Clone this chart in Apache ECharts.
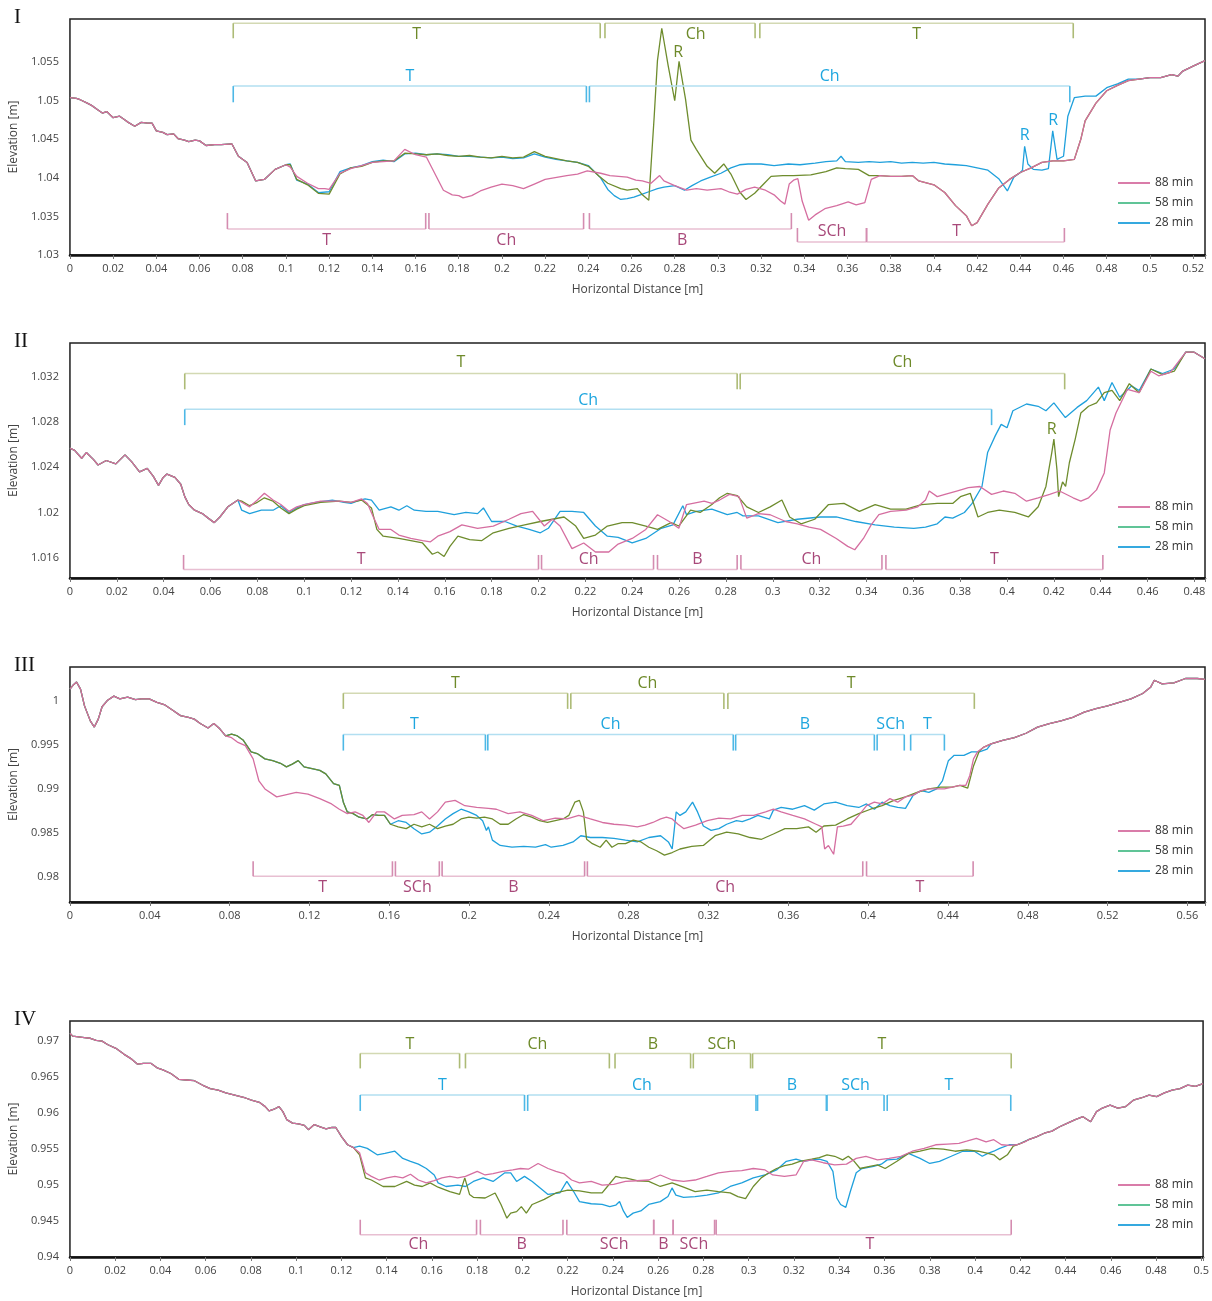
<!DOCTYPE html>
<html><head><meta charset="utf-8">
<script src="https://cdn.jsdelivr.net/npm/echarts@6/dist/echarts.min.js"></script>
<style>html,body{margin:0;padding:0;background:#fff}#c{width:1212px;height:1301px}</style>
</head><body><div id="c"></div>
<script>
// ---------------- DATA ----------------
const SERIES_NAMES = ['88 min', '58 min', '28 min'];
// Panel I
const I_START = [[0,1.0504],[0.003,1.0503],[0.005,1.0501],[0.008,1.0497],[0.01,1.0494],[0.013,1.0488],[0.015,1.0484],[0.017,1.0486],[0.02,1.0478],[0.023,1.048],[0.025,1.0476],[0.027,1.0472],[0.03,1.0467],[0.033,1.0472],[0.036,1.0471],[0.038,1.0471],[0.04,1.0461],[0.043,1.0459],[0.045,1.0456],[0.048,1.0457],[0.05,1.0451],[0.053,1.0449],[0.055,1.0447],[0.058,1.0449],[0.06,1.0448],[0.063,1.0442],[0.067,1.0443],[0.07,1.0443],[0.075,1.0444],[0.078,1.0428],[0.082,1.042],[0.086,1.0396],[0.09,1.0398],[0.095,1.0411],[0.1,1.0417]];
const I_VALLEY = [[0.375,1.0403],[0.38,1.0402],[0.385,1.0402],[0.39,1.0403],[0.393,1.0396],[0.4,1.0391],[0.405,1.0381],[0.41,1.0364],[0.415,1.0351],[0.4175,1.0338],[0.42,1.0342],[0.425,1.0366],[0.43,1.0387],[0.435,1.0398],[0.44,1.0407],[0.445,1.0413],[0.45,1.042],[0.455,1.0422],[0.46,1.0422],[0.465,1.0424]];
const I_END = [[0.468,1.045],[0.47,1.0474],[0.475,1.0497],[0.48,1.0513],[0.485,1.052],[0.49,1.0526],[0.495,1.0528],[0.5,1.053],[0.505,1.053],[0.51,1.0534],[0.513,1.0532],[0.515,1.0538],[0.52,1.0545],[0.5255,1.0552]];
const I_88 = [...I_START,[0.102,1.0414],[0.105,1.0402],[0.11,1.0393],[0.115,1.0386],[0.118,1.0386],[0.12,1.0385],[0.125,1.0406],[0.13,1.0412],[0.135,1.0416],[0.14,1.042],[0.145,1.0421],[0.15,1.0422],[0.155,1.0437],[0.16,1.043],[0.165,1.0427],[0.1729,1.0384],[0.177,1.0378],[0.18,1.0377],[0.182,1.0374],[0.186,1.0377],[0.19,1.0383],[0.195,1.0388],[0.2,1.0392],[0.205,1.039],[0.21,1.0386],[0.215,1.0392],[0.22,1.0398],[0.224,1.04],[0.23,1.0403],[0.235,1.0405],[0.2395,1.0409],[0.2457,1.0406],[0.25,1.0403],[0.258,1.0401],[0.262,1.0397],[0.265,1.0396],[0.269,1.0393],[0.273,1.0403],[0.275,1.0396],[0.28,1.039],[0.2855,1.0384],[0.29,1.0386],[0.295,1.0384],[0.3014,1.0386],[0.305,1.0382],[0.309,1.0379],[0.313,1.0385],[0.317,1.0388],[0.322,1.0384],[0.326,1.0378],[0.329,1.037],[0.331,1.0366],[0.333,1.0392],[0.335,1.0397],[0.337,1.0399],[0.339,1.037],[0.342,1.0345],[0.345,1.0352],[0.3495,1.036],[0.355,1.0364],[0.3603,1.0369],[0.364,1.0365],[0.368,1.0368],[0.371,1.0398],...I_VALLEY,...I_END];
const I_58 = [...I_START,[0.102,1.0417],[0.105,1.0398],[0.11,1.0391],[0.115,1.038],[0.12,1.0379],[0.125,1.0405],[0.13,1.0413],[0.135,1.0415],[0.14,1.042],[0.145,1.0422],[0.15,1.0422],[0.155,1.0432],[0.16,1.0431],[0.165,1.043],[0.17,1.0431],[0.175,1.0429],[0.18,1.0428],[0.185,1.0429],[0.19,1.0427],[0.195,1.0426],[0.2,1.0428],[0.205,1.0426],[0.21,1.0427],[0.215,1.0434],[0.22,1.0428],[0.225,1.0425],[0.23,1.0422],[0.235,1.042],[0.24,1.0415],[0.245,1.0402],[0.249,1.0393],[0.255,1.0386],[0.258,1.0384],[0.2627,1.0386],[0.265,1.0378],[0.268,1.0371],[0.2705,1.048],[0.272,1.0552],[0.274,1.0594],[0.277,1.0545],[0.28,1.05],[0.282,1.0551],[0.285,1.0502],[0.2875,1.0449],[0.29,1.0437],[0.295,1.0415],[0.2985,1.0406],[0.3027,1.0418],[0.306,1.0405],[0.31,1.0382],[0.313,1.0372],[0.317,1.038],[0.3215,1.0393],[0.3246,1.0402],[0.33,1.0403],[0.335,1.0403],[0.343,1.0404],[0.35,1.0408],[0.355,1.0413],[0.359,1.0412],[0.365,1.0411],[0.37,1.0403],...I_VALLEY,...I_END];
const I_28 = [...I_START,[0.102,1.0418],[0.105,1.0397],[0.11,1.0392],[0.115,1.0381],[0.12,1.0382],[0.125,1.0408],[0.13,1.0413],[0.135,1.0416],[0.14,1.0421],[0.145,1.0423],[0.15,1.0421],[0.155,1.0431],[0.16,1.0432],[0.165,1.043],[0.17,1.0431],[0.175,1.043],[0.18,1.0428],[0.185,1.0428],[0.19,1.0427],[0.195,1.0426],[0.2,1.0427],[0.205,1.0425],[0.21,1.0426],[0.215,1.0431],[0.22,1.0427],[0.225,1.0424],[0.23,1.0422],[0.235,1.042],[0.24,1.0416],[0.2457,1.04],[0.249,1.0385],[0.252,1.0377],[0.255,1.0372],[0.258,1.0373],[0.2611,1.0375],[0.265,1.0379],[0.268,1.0382],[0.272,1.0386],[0.275,1.0388],[0.28,1.039],[0.2845,1.0384],[0.288,1.039],[0.292,1.0396],[0.2965,1.0401],[0.3014,1.0406],[0.306,1.0413],[0.31,1.0417],[0.314,1.0418],[0.32,1.0418],[0.326,1.0416],[0.3326,1.0418],[0.338,1.0417],[0.345,1.0419],[0.35,1.0421],[0.355,1.0422],[0.357,1.0428],[0.359,1.0421],[0.365,1.042],[0.37,1.0421],[0.375,1.042],[0.38,1.0421],[0.385,1.0419],[0.39,1.042],[0.395,1.0419],[0.4,1.042],[0.405,1.0418],[0.41,1.0417],[0.415,1.0416],[0.42,1.0413],[0.425,1.041],[0.43,1.0399],[0.434,1.0383],[0.437,1.0401],[0.44,1.0407],[0.441,1.041],[0.442,1.0441],[0.4435,1.0418],[0.446,1.0411],[0.45,1.041],[0.453,1.0412],[0.455,1.0461],[0.457,1.0424],[0.46,1.0428],[0.462,1.048],[0.465,1.0504],[0.47,1.0506],[0.475,1.0506],[0.48,1.0517],[0.485,1.0522],[0.49,1.0528],[0.495,1.0528],[0.5,1.053],[0.505,1.053],[0.51,1.0534],[0.513,1.0532],[0.515,1.0538],[0.52,1.0545],[0.5255,1.0552]];
const I_SEG_58 = [[0.0756,0.2455,'T'],[0.2477,0.3172,'Ch',0.2897],[0.3194,0.4645,'T']];
const I_SEG_28 = [[0.0756,0.2391,'T'],[0.2405,0.4629,'Ch']];
const I_SEG_88A = [[0.0729,0.1647,'T'],[0.1662,0.2378,'Ch'],[0.2405,0.334,'B',0.2834]];
const I_SEG_88B = [[0.3368,0.3688,'SCh'],[0.3688,0.4604,'T',0.4105]];
const I_TXT_58 = [[0.2816,1.0563,'R']];
const I_TXT_28 = [[0.442,1.0455,'R'],[0.4552,1.0474,'R']];

// Panel II
const II_START = [[0,1.0257],[0.002,1.0255],[0.005,1.0248],[0.007,1.0253],[0.01,1.0247],[0.012,1.0242],[0.0155,1.0246],[0.0196,1.0243],[0.0235,1.0251],[0.0263,1.0245],[0.0297,1.0236],[0.033,1.0239],[0.0356,1.0232],[0.0378,1.0224],[0.0398,1.0231],[0.0414,1.0234],[0.0448,1.0231],[0.0473,1.0225],[0.049,1.0214],[0.0507,1.0207],[0.0532,1.0202],[0.0565,1.0199],[0.059,1.0195],[0.0616,1.0191],[0.064,1.0196],[0.0674,1.0205],[0.0717,1.0211]];
const II_END = [[0.4763,1.0342],[0.4797,1.0342],[0.4845,1.0336]];
const II_88 = [...II_START,[0.0733,1.0209],[0.0767,1.0205],[0.08,1.0211],[0.083,1.0217],[0.0867,1.0211],[0.09,1.0207],[0.0935,1.0201],[0.0968,1.0205],[0.1,1.0207],[0.107,1.021],[0.115,1.021],[0.12,1.0209],[0.1245,1.0212],[0.127,1.0208],[0.1295,1.0196],[0.132,1.0185],[0.137,1.0185],[0.1404,1.018],[0.1455,1.0177],[0.1505,1.0175],[0.1539,1.0174],[0.157,1.0179],[0.1622,1.0183],[0.1673,1.0189],[0.174,1.0186],[0.1807,1.0188],[0.1874,1.0194],[0.1925,1.0199],[0.1975,1.0201],[0.2025,1.0188],[0.2059,1.0194],[0.2092,1.0188],[0.2143,1.0168],[0.2193,1.0173],[0.2243,1.0165],[0.23,1.0165],[0.234,1.0172],[0.24,1.0177],[0.2458,1.0185],[0.2508,1.0198],[0.2558,1.0192],[0.2599,1.0186],[0.2632,1.0207],[0.2707,1.021],[0.274,1.0208],[0.2773,1.0211],[0.2815,1.0216],[0.2856,1.0214],[0.2889,1.0195],[0.2939,1.0199],[0.2989,1.0198],[0.3055,1.0192],[0.3105,1.019],[0.3155,1.0187],[0.3204,1.0185],[0.3271,1.0177],[0.332,1.017],[0.335,1.0167],[0.3387,1.0177],[0.342,1.0189],[0.3453,1.0198],[0.3503,1.0201],[0.3569,1.0202],[0.3619,1.0205],[0.3652,1.0211],[0.3668,1.0219],[0.3702,1.0214],[0.3735,1.0216],[0.3785,1.0219],[0.3835,1.0222],[0.3884,1.0223],[0.3934,1.0216],[0.3984,1.0219],[0.4033,1.0217],[0.4083,1.021],[0.4133,1.0213],[0.4182,1.0216],[0.4224,1.0219],[0.4282,1.0213],[0.4315,1.021],[0.4348,1.0213],[0.4382,1.022],[0.4415,1.0235],[0.444,1.0273],[0.4465,1.0288],[0.4514,1.0309],[0.4564,1.0306],[0.4614,1.0325],[0.4647,1.0321],[0.4697,1.0324],...II_END];
const II_58 = [...II_START,[0.0733,1.021],[0.0767,1.0206],[0.08,1.0209],[0.083,1.0213],[0.0867,1.021],[0.09,1.0204],[0.0935,1.0199],[0.0968,1.0203],[0.1,1.0206],[0.107,1.0209],[0.115,1.021],[0.12,1.0209],[0.1245,1.0211],[0.1287,1.0204],[0.131,1.0185],[0.1337,1.0179],[0.1404,1.0177],[0.1455,1.0175],[0.1505,1.0173],[0.1547,1.0163],[0.157,1.0165],[0.1597,1.0161],[0.1622,1.017],[0.1656,1.0179],[0.1706,1.0176],[0.1757,1.0175],[0.1807,1.0182],[0.1874,1.0186],[0.1941,1.0189],[0.2008,1.0192],[0.2059,1.0194],[0.2109,1.0196],[0.2159,1.0188],[0.2193,1.0177],[0.2243,1.018],[0.2294,1.0188],[0.2357,1.0191],[0.24,1.0191],[0.2458,1.0188],[0.2508,1.0185],[0.2566,1.0191],[0.2599,1.0188],[0.2649,1.0202],[0.269,1.02],[0.274,1.0207],[0.2773,1.0213],[0.2806,1.0217],[0.2848,1.0215],[0.2889,1.0205],[0.2939,1.02],[0.2989,1.0205],[0.3039,1.0211],[0.3072,1.0196],[0.3121,1.019],[0.3179,1.0194],[0.3238,1.0207],[0.3304,1.0208],[0.337,1.0201],[0.3437,1.0207],[0.3503,1.0203],[0.3569,1.0203],[0.3635,1.0207],[0.3702,1.0208],[0.3768,1.0208],[0.3801,1.0214],[0.3843,1.0217],[0.3876,1.0196],[0.3917,1.02],[0.3967,1.0202],[0.4033,1.02],[0.4091,1.0196],[0.4133,1.0205],[0.4166,1.0223],[0.4191,1.0253],[0.42,1.0265],[0.4213,1.0238],[0.422,1.0214],[0.4237,1.0227],[0.425,1.0223],[0.4266,1.0244],[0.4291,1.0265],[0.4315,1.0288],[0.4348,1.0294],[0.4382,1.0297],[0.4415,1.0306],[0.4448,1.0308],[0.4481,1.0299],[0.4522,1.0314],[0.4564,1.0306],[0.4614,1.0327],[0.4664,1.0322],[0.4714,1.0325],...II_END];
const II_28 = [...II_START,[0.0733,1.0202],[0.0767,1.0199],[0.0817,1.0202],[0.0867,1.0202],[0.09,1.0206],[0.0935,1.02],[0.0968,1.0204],[0.1,1.0207],[0.105,1.0209],[0.112,1.0211],[0.117,1.0209],[0.12,1.0208],[0.1237,1.0211],[0.126,1.0212],[0.1287,1.0211],[0.132,1.0202],[0.137,1.0205],[0.1404,1.0202],[0.1438,1.0206],[0.147,1.0202],[0.152,1.0201],[0.157,1.0201],[0.164,1.0198],[0.169,1.02],[0.174,1.0199],[0.1765,1.0204],[0.18,1.0192],[0.1857,1.0192],[0.1908,1.0188],[0.196,1.0185],[0.2008,1.0182],[0.2042,1.0186],[0.2092,1.0201],[0.2143,1.0201],[0.2193,1.02],[0.2243,1.0188],[0.2294,1.0179],[0.234,1.0178],[0.24,1.0173],[0.2458,1.0177],[0.2524,1.0186],[0.2574,1.0189],[0.2616,1.0206],[0.2632,1.0198],[0.2674,1.0201],[0.274,1.0203],[0.2806,1.0198],[0.2848,1.02],[0.2873,1.0197],[0.2939,1.0197],[0.3022,1.0191],[0.3105,1.0194],[0.3204,1.0196],[0.3271,1.0196],[0.3354,1.0192],[0.3437,1.0189],[0.3519,1.0187],[0.3602,1.0186],[0.3652,1.0187],[0.3702,1.019],[0.3735,1.0196],[0.3768,1.0195],[0.3818,1.02],[0.3851,1.0208],[0.3893,1.0223],[0.3917,1.0253],[0.395,1.0268],[0.3975,1.0278],[0.4,1.0275],[0.4025,1.029],[0.4083,1.0296],[0.4133,1.0294],[0.4166,1.029],[0.42,1.0297],[0.4249,1.0284],[0.4299,1.0293],[0.434,1.0299],[0.439,1.0311],[0.4415,1.0299],[0.4448,1.0315],[0.4481,1.0302],[0.4531,1.0312],[0.4564,1.0308],[0.4614,1.0327],[0.4664,1.0323],[0.4714,1.0327],...II_END];
const II_SEG_58 = [[0.049,0.2848,'T'],[0.2861,0.4246,'Ch']];
const II_SEG_28 = [[0.049,0.3934,'Ch']];
const II_SEG_88 = [[0.0485,0.2,'T'],[0.2013,0.2491,'Ch',0.2214],[0.2508,0.2848,'B'],[0.2864,0.3466,'Ch'],[0.3483,0.4409,'T']];
const II_TXT_58 = [[0.4191,1.02735,'R']];

// Panel III
const III_START = [[0,1.0013],[0.0014,1.0017],[0.0033,1.0021],[0.0053,1.0013],[0.0073,0.9994],[0.0102,0.9977],[0.0122,0.997],[0.0142,0.9979],[0.0161,0.9993],[0.0187,1.0],[0.022,1.0005],[0.025,1.0002],[0.0289,1.0004],[0.0328,1.0001],[0.0358,1.0002],[0.0397,1.0002],[0.0436,0.9998],[0.0476,0.9995],[0.0515,0.9989],[0.0554,0.9983],[0.0594,0.9981],[0.0623,0.9979],[0.0653,0.9974],[0.0692,0.9969],[0.0721,0.9974],[0.0751,0.9968],[0.078,0.996]];
const III_BANK = [[0.081,0.9962],[0.0839,0.996],[0.0869,0.9955],[0.0908,0.9942],[0.0938,0.994],[0.0977,0.9934],[0.1016,0.9932],[0.1055,0.9929],[0.1085,0.9925],[0.1114,0.9928],[0.1144,0.9932],[0.1173,0.9925],[0.1213,0.9923],[0.1252,0.9921],[0.1282,0.9917],[0.1321,0.9906],[0.135,0.9904],[0.137,0.9885],[0.139,0.9874],[0.1419,0.9872],[0.1449,0.9868],[0.1488,0.9866],[0.1517,0.9871],[0.1547,0.987],[0.1576,0.987],[0.1606,0.986]];
const III_END = [[0.4616,0.9951],[0.4674,0.9955],[0.4733,0.9958],[0.4791,0.9963],[0.4849,0.997],[0.4908,0.9974],[0.4966,0.9977],[0.5025,0.9981],[0.5083,0.9987],[0.5142,0.9991],[0.52,0.9994],[0.5258,0.9998],[0.5317,1.0002],[0.5376,1.0008],[0.5415,1.0015],[0.5434,1.0023],[0.5473,1.0019],[0.5532,1.002],[0.559,1.0025],[0.5649,1.0025],[0.5688,1.0024]];
const III_88 = [...III_START,[0.081,0.9958],[0.0839,0.9953],[0.0879,0.9949],[0.0918,0.9934],[0.0947,0.9909],[0.0977,0.99],[0.1036,0.9891],[0.1075,0.9893],[0.1134,0.9896],[0.1193,0.9894],[0.1252,0.9889],[0.1311,0.9883],[0.135,0.9877],[0.139,0.9872],[0.1429,0.9874],[0.1468,0.987],[0.1498,0.9862],[0.1537,0.9874],[0.1576,0.9874],[0.1626,0.9866],[0.1665,0.987],[0.1724,0.9871],[0.1763,0.9874],[0.1802,0.9866],[0.1842,0.9874],[0.1881,0.9885],[0.193,0.9887],[0.1979,0.9881],[0.2038,0.9879],[0.2097,0.9878],[0.2137,0.9877],[0.2196,0.9872],[0.2255,0.9874],[0.2314,0.987],[0.2373,0.9864],[0.2432,0.9867],[0.2491,0.9866],[0.255,0.987],[0.2608,0.9866],[0.2668,0.9862],[0.2726,0.986],[0.2784,0.9859],[0.2843,0.9857],[0.2882,0.9859],[0.2921,0.9862],[0.296,0.9866],[0.2989,0.9868],[0.3018,0.9866],[0.3047,0.986],[0.3077,0.9855],[0.3135,0.9859],[0.3194,0.9864],[0.3252,0.9867],[0.331,0.9866],[0.3369,0.987],[0.3427,0.987],[0.3486,0.9874],[0.3525,0.9877],[0.3564,0.9874],[0.3622,0.987],[0.3681,0.9866],[0.3739,0.986],[0.3768,0.9857],[0.3782,0.9832],[0.3801,0.9836],[0.3827,0.9826],[0.3846,0.9857],[0.3875,0.9858],[0.3914,0.986],[0.3953,0.987],[0.3992,0.9881],[0.4031,0.9885],[0.407,0.9883],[0.4109,0.9889],[0.4148,0.9885],[0.4187,0.9891],[0.4226,0.9893],[0.4265,0.9898],[0.4304,0.99],[0.4343,0.99],[0.4382,0.99],[0.4421,0.9902],[0.446,0.9904],[0.4489,0.9904],[0.4509,0.9915],[0.4528,0.9934],[0.4548,0.9942],[0.4577,0.9947],...III_END];
const III_58 = [...III_START,...III_BANK,[0.1645,0.9857],[0.1685,0.9855],[0.1724,0.986],[0.1763,0.9857],[0.1802,0.986],[0.1842,0.9855],[0.1881,0.9858],[0.192,0.986],[0.196,0.9866],[0.1999,0.9868],[0.2038,0.9867],[0.2077,0.9868],[0.2117,0.9866],[0.2156,0.986],[0.2196,0.986],[0.2235,0.9866],[0.2274,0.9871],[0.2314,0.9868],[0.2353,0.9864],[0.2393,0.9862],[0.2432,0.9864],[0.2471,0.9866],[0.25,0.987],[0.253,0.9885],[0.2553,0.9887],[0.2573,0.9874],[0.2589,0.9843],[0.2618,0.9838],[0.2657,0.9834],[0.2687,0.9842],[0.2716,0.9834],[0.2746,0.9838],[0.2784,0.9838],[0.2823,0.9842],[0.2862,0.984],[0.2901,0.9834],[0.294,0.983],[0.2979,0.9825],[0.3018,0.9828],[0.3057,0.9832],[0.3116,0.9835],[0.3174,0.9836],[0.3233,0.9847],[0.3291,0.9851],[0.3349,0.9849],[0.3408,0.9845],[0.3466,0.9843],[0.3525,0.9849],[0.3583,0.9855],[0.3642,0.9855],[0.3701,0.9857],[0.3739,0.9851],[0.3778,0.9858],[0.3837,0.9859],[0.3895,0.9866],[0.3953,0.9872],[0.4012,0.9877],[0.407,0.9881],[0.4129,0.9887],[0.4187,0.9891],[0.4245,0.9896],[0.4304,0.99],[0.4363,0.9902],[0.4421,0.9902],[0.446,0.9904],[0.4499,0.9901],[0.4528,0.9926],[0.4557,0.9943],[0.4577,0.9947],...III_END];
const III_28 = [...III_START,...III_BANK,[0.1645,0.9864],[0.1685,0.9862],[0.1724,0.9855],[0.1763,0.9849],[0.1802,0.9851],[0.1842,0.9858],[0.1881,0.9866],[0.192,0.9872],[0.196,0.9877],[0.1999,0.9874],[0.2038,0.987],[0.2068,0.9864],[0.2087,0.9853],[0.2097,0.9857],[0.2117,0.9842],[0.2156,0.9836],[0.2215,0.9834],[0.2274,0.9835],[0.2333,0.9834],[0.2383,0.9837],[0.2412,0.9834],[0.2471,0.9836],[0.2521,0.984],[0.256,0.9847],[0.2608,0.9845],[0.2668,0.9845],[0.2726,0.9844],[0.2784,0.9842],[0.2843,0.984],[0.2901,0.9845],[0.296,0.9847],[0.2999,0.984],[0.3018,0.9832],[0.3038,0.9874],[0.3057,0.987],[0.3086,0.9874],[0.312,0.9885],[0.3145,0.9874],[0.3174,0.9858],[0.3213,0.9853],[0.3252,0.9855],[0.3291,0.986],[0.334,0.9864],[0.3369,0.9863],[0.3408,0.9866],[0.3447,0.987],[0.3505,0.9866],[0.3525,0.9876],[0.3564,0.9879],[0.3622,0.9877],[0.3681,0.9881],[0.373,0.9876],[0.3778,0.9883],[0.3837,0.9885],[0.3895,0.9881],[0.3953,0.9879],[0.3992,0.9883],[0.4031,0.9877],[0.407,0.9885],[0.4109,0.9881],[0.4148,0.9879],[0.4187,0.9878],[0.4226,0.9893],[0.4265,0.9898],[0.4304,0.9896],[0.4343,0.99],[0.4372,0.9909],[0.4402,0.9932],[0.4431,0.9938],[0.448,0.9938],[0.4518,0.9942],[0.4557,0.9942],[0.4596,0.9945],...III_END];
const III_SEG_58 = [[0.137,0.2494,'T'],[0.251,0.3277,'Ch'],[0.3297,0.4532,'T']];
const III_SEG_28 = [[0.137,0.2082,'T'],[0.2094,0.3324,'Ch'],[0.3336,0.4031,'B'],[0.4045,0.4181,'SCh'],[0.4213,0.4382,'T']];
const III_SEG_88 = [[0.0918,0.1616,'T'],[0.1631,0.1851,'SCh'],[0.1865,0.2579,'B'],[0.2593,0.3973,'Ch'],[0.3992,0.4526,'T']];

// Panel IV
const IV_START = [[0,0.9711],[0.0012,0.9707],[0.0038,0.9706],[0.0064,0.9705],[0.009,0.9704],[0.0116,0.9701],[0.0142,0.97],[0.0168,0.9695],[0.0203,0.969],[0.0238,0.9682],[0.0273,0.9675],[0.0299,0.9668],[0.0325,0.9669],[0.0359,0.9669],[0.0385,0.9663],[0.0411,0.966],[0.0446,0.9655],[0.0481,0.9647],[0.0516,0.9646],[0.055,0.9645],[0.0585,0.9639],[0.062,0.9634],[0.0655,0.9632],[0.0689,0.9628],[0.0715,0.9626],[0.0741,0.9624],[0.0776,0.9621],[0.0802,0.9618],[0.0837,0.9615],[0.0863,0.9609],[0.088,0.9603],[0.0906,0.9606],[0.0924,0.9609],[0.0941,0.9602],[0.0958,0.9591],[0.0984,0.9586],[0.101,0.9585],[0.1036,0.9583],[0.1054,0.9577],[0.108,0.9584],[0.1106,0.9581],[0.1132,0.9578],[0.1158,0.958],[0.1175,0.958],[0.1201,0.9567],[0.1227,0.9556],[0.1253,0.9552]];
const IV_END = [[0.4237,0.9563],[0.4271,0.9567],[0.4306,0.9572],[0.434,0.9575],[0.4374,0.9581],[0.4409,0.9586],[0.4443,0.9591],[0.4477,0.9595],[0.4511,0.9588],[0.4537,0.9602],[0.4563,0.9607],[0.4597,0.9611],[0.4631,0.9607],[0.4666,0.9609],[0.47,0.9618],[0.4734,0.9621],[0.4769,0.9625],[0.4803,0.9623],[0.4837,0.9628],[0.4871,0.9632],[0.4906,0.9634],[0.494,0.9639],[0.4974,0.9637],[0.5008,0.9641]];
const IV_88 = [...IV_START,[0.128,0.9545],[0.1306,0.9517],[0.1332,0.9512],[0.1366,0.9507],[0.1401,0.951],[0.1436,0.9512],[0.1471,0.951],[0.1505,0.9515],[0.154,0.9507],[0.1575,0.9503],[0.161,0.9506],[0.1644,0.951],[0.1679,0.9512],[0.1714,0.951],[0.1748,0.9512],[0.18,0.9519],[0.1835,0.9514],[0.187,0.9516],[0.1913,0.9519],[0.1957,0.9521],[0.1991,0.9523],[0.2026,0.9522],[0.2069,0.953],[0.2113,0.9523],[0.2148,0.9519],[0.2182,0.9516],[0.2217,0.9507],[0.2252,0.9503],[0.2304,0.9505],[0.2352,0.95],[0.2403,0.9501],[0.2455,0.9505],[0.2506,0.9506],[0.2558,0.9507],[0.2609,0.9514],[0.2661,0.9507],[0.2712,0.9505],[0.2763,0.9507],[0.2815,0.9512],[0.2866,0.9517],[0.2918,0.9519],[0.2969,0.952],[0.302,0.9523],[0.3072,0.9521],[0.3106,0.9514],[0.3158,0.9512],[0.3209,0.9514],[0.3243,0.9533],[0.3278,0.9535],[0.3329,0.9531],[0.338,0.9528],[0.3432,0.9529],[0.3475,0.9537],[0.3518,0.954],[0.3569,0.9535],[0.362,0.9537],[0.3672,0.954],[0.3723,0.9547],[0.3775,0.9551],[0.3826,0.9556],[0.3878,0.9557],[0.3929,0.9558],[0.3963,0.9561],[0.4006,0.9565],[0.4049,0.956],[0.4083,0.9563],[0.4117,0.9556],[0.4152,0.9555],[0.4186,0.9556],[0.422,0.956],...IV_END];
const IV_58 = [...IV_START,[0.128,0.9542],[0.1306,0.951],[0.1332,0.9507],[0.1384,0.9498],[0.1436,0.9498],[0.1488,0.9505],[0.1523,0.95],[0.1557,0.9498],[0.1592,0.9503],[0.1627,0.9497],[0.1679,0.9491],[0.1722,0.9487],[0.1745,0.951],[0.1766,0.9487],[0.1783,0.9483],[0.1835,0.9482],[0.1879,0.9489],[0.1905,0.9473],[0.1931,0.9454],[0.1948,0.9461],[0.1974,0.9463],[0.1995,0.947],[0.2017,0.9461],[0.2043,0.9473],[0.2096,0.948],[0.2148,0.9489],[0.22,0.9493],[0.2252,0.9492],[0.2304,0.9489],[0.2352,0.9489],[0.2378,0.9499],[0.2412,0.9512],[0.2439,0.951],[0.2455,0.951],[0.2506,0.9506],[0.2558,0.9505],[0.2609,0.9498],[0.2661,0.9503],[0.2712,0.9497],[0.2763,0.9491],[0.2815,0.9493],[0.2866,0.9491],[0.2918,0.9489],[0.2952,0.9484],[0.2986,0.9481],[0.302,0.9498],[0.3055,0.951],[0.3089,0.9517],[0.3123,0.9523],[0.3158,0.9527],[0.3192,0.9529],[0.3226,0.9533],[0.3278,0.9536],[0.3312,0.9538],[0.3346,0.9542],[0.338,0.954],[0.3415,0.9535],[0.344,0.954],[0.3466,0.9533],[0.3492,0.9523],[0.3535,0.9526],[0.3569,0.9528],[0.3603,0.9523],[0.3655,0.9533],[0.3706,0.9544],[0.3757,0.9547],[0.3809,0.9551],[0.386,0.955],[0.3912,0.9547],[0.3963,0.9549],[0.4015,0.9547],[0.4057,0.9544],[0.4083,0.9542],[0.4109,0.9535],[0.4143,0.9542],[0.4169,0.9554],[0.4203,0.9558],...IV_END];
const IV_28 = [...IV_START,[0.128,0.9554],[0.1314,0.9551],[0.1358,0.9542],[0.1392,0.9544],[0.1436,0.9547],[0.1471,0.9537],[0.1505,0.9533],[0.154,0.9529],[0.1575,0.9523],[0.161,0.9514],[0.1627,0.9503],[0.1662,0.9498],[0.1714,0.95],[0.1748,0.9498],[0.1783,0.9505],[0.1826,0.951],[0.187,0.9505],[0.1922,0.9517],[0.1948,0.9517],[0.1974,0.9505],[0.2009,0.9512],[0.2043,0.9505],[0.2078,0.9496],[0.2113,0.9487],[0.2165,0.9489],[0.2196,0.9505],[0.2226,0.9491],[0.2252,0.9477],[0.2304,0.9474],[0.2352,0.9473],[0.2386,0.947],[0.2412,0.9472],[0.2429,0.9477],[0.2446,0.9464],[0.2463,0.9455],[0.2489,0.9461],[0.2523,0.9464],[0.2558,0.9473],[0.2609,0.9477],[0.2643,0.9484],[0.2661,0.9496],[0.2678,0.9486],[0.2712,0.9483],[0.2763,0.9484],[0.2815,0.9486],[0.2866,0.9489],[0.2918,0.9498],[0.2969,0.9503],[0.302,0.951],[0.3072,0.9514],[0.3123,0.9521],[0.3166,0.9533],[0.3209,0.9536],[0.3243,0.9533],[0.3278,0.9535],[0.3312,0.9536],[0.3346,0.9533],[0.3372,0.9519],[0.3389,0.9482],[0.3406,0.9473],[0.3429,0.9469],[0.3449,0.9491],[0.3475,0.9517],[0.35,0.9523],[0.3552,0.9526],[0.3586,0.9529],[0.3612,0.9535],[0.3655,0.9536],[0.3706,0.9544],[0.3757,0.9537],[0.38,0.953],[0.3843,0.9533],[0.3895,0.954],[0.3946,0.9547],[0.3997,0.9547],[0.4032,0.954],[0.4057,0.9544],[0.4083,0.9547],[0.4109,0.9551],[0.4152,0.9556],[0.4186,0.9556],...IV_END];
const IV_SEG_58 = [[0.1283,0.1722,'T'],[0.1748,0.2384,'Ch'],[0.2409,0.2743,'B'],[0.2755,0.3008,'SCh'],[0.3017,0.416,'T']];
const IV_SEG_28 = [[0.1283,0.2009,'T'],[0.2023,0.3032,'Ch'],[0.3039,0.3343,'B'],[0.3346,0.3598,'SCh'],[0.3612,0.4158,'T']];
const IV_SEG_88 = [[0.1283,0.1797,'Ch'],[0.1814,0.2179,'B'],[0.2196,0.258,'SCh',0.2405],[0.258,0.2666,'B'],[0.2666,0.2849,'SCh'],[0.2856,0.416,'T',0.3535]];

// ---------------- STYLE / LAYOUT ----------------
const COL = {
  '88 min': {line:'#d56ea0', bLine:'#e8bfd2', bTick:'#d48cb0', text:'#a8497a'},
  '58 min': {line:'#6e8c2d', bLine:'#d3d9b3', bTick:'#adbb76', text:'#6e8a2a', legend:'#4fbe8c'},
  '28 min': {line:'#1fa0dc', bLine:'#b2dff1', bTick:'#4db8e6', text:'#1ea6df'}
};
const FONT = '"Open Sans", "Noto Sans", sans-serif';

const PANELS = [
  {roman:'I', top:19, height:236, xMax:0.5255, xInt:0.02, yMin:1.03, yMax:1.0606, yInt:0.005, yStep:0.005, yLabelMax:1.055, legendTop:172,
   lines:{'88 min':I_88,'58 min':I_58,'28 min':I_28},
   brackets:[
     {key:'58 min', segs:I_SEG_58, line:1.06005, tick:1.0581, label:1.0586},
     {key:'28 min', segs:I_SEG_28, line:1.0519, tick:1.0498, label:1.0532},
     {key:'88 min', segs:I_SEG_88A, line:1.03337, tick:1.03544, label:1.03194},
     {key:'88 min', segs:I_SEG_88B, line:1.0317, tick:1.0335, label:1.0331}],
   texts:[{key:'58 min', items:I_TXT_58},{key:'28 min', items:I_TXT_28}]},
  {roman:'II', top:343, height:235, xMax:0.4845, xInt:0.02, yMin:1.0142, yMax:1.035, yInt:0.0002, yStep:0.004, yLabelMax:1.032, legendTop:496,
   lines:{'88 min':II_88,'58 min':II_58,'28 min':II_28},
   brackets:[
     {key:'58 min', segs:II_SEG_58, line:1.0323, tick:1.0309, label:1.0333},
     {key:'28 min', segs:II_SEG_28, line:1.02913, tick:1.02773, label:1.02996},
     {key:'88 min', segs:II_SEG_88, line:1.01496, tick:1.01624, label:1.01585}],
   texts:[{key:'58 min', items:II_TXT_58}]},
  {roman:'III', top:667, height:235, xMax:0.5688, xInt:0.04, yMin:0.9772, yMax:1.0038, yInt:0.0002, yStep:0.005, yLabelMax:1.0, legendTop:820,
   lines:{'88 min':III_88,'58 min':III_58,'28 min':III_28},
   brackets:[
     {key:'58 min', segs:III_SEG_58, line:1.00083, tick:0.99906, label:1.00189},
     {key:'28 min', segs:III_SEG_28, line:0.99615, tick:0.99434, label:0.99728},
     {key:'88 min', segs:III_SEG_88, line:0.98011, tick:0.98181, label:0.97887}],
   texts:[]},
  {roman:'IV', top:1021, height:236, xMax:0.5008, xInt:0.02, yMin:0.94, yMax:0.9728, yInt:0.005, yStep:0.005, yLabelMax:0.97, legendTop:1174,
   lines:{'88 min':IV_88,'58 min':IV_58,'28 min':IV_28},
   brackets:[
     {key:'58 min', segs:IV_SEG_58, line:0.96829, tick:0.96621, label:0.96954},
     {key:'28 min', segs:IV_SEG_28, line:0.96252, tick:0.9603, label:0.96381},
     {key:'88 min', segs:IV_SEG_88, line:0.9431, tick:0.94518, label:0.94171}],
   texts:[]}
];

function stepFmt(step, maxLabel){
  return function(v){
    if (maxLabel != null && v > maxLabel + 1e-9) return '';
    const k = v/step;
    return Math.abs(k-Math.round(k)) < 1e-6 ? String(parseFloat(v.toFixed(4))) : '';
  };
}

const grids=[], xAxes=[], yAxes=[], series=[], legends=[], graphics=[];
PANELS.forEach((p,i)=>{
  grids.push({left:65, width:1140, top:p.top, height:p.height, show:true, borderColor:'#1f1f1f', borderWidth:1.5, backgroundColor:'transparent'});
  xAxes.push({type:'value', gridIndex:i, min:0, max:p.xMax, interval:p.xInt,
    axisLine:{show:true, onZero:false, lineStyle:{color:'#111', width:2.5}},
    axisTick:{show:true, length:4, lineStyle:{color:'#777'}},
    splitLine:{show:false},
    axisLabel:{fontSize:11, color:'#444', fontFamily:FONT, margin:8, formatter:stepFmt(p.xInt, null)},
    name:'Horizontal Distance [m]', nameLocation:'middle', nameGap:29,
    nameTextStyle:{fontSize:12, color:'#444', fontFamily:FONT}});
  yAxes.push({type:'value', gridIndex:i, min:p.yMin, max:p.yMax, interval:p.yInt,
    axisLine:{show:false}, axisTick:{show:false}, splitLine:{show:false},
    axisLabel:{fontSize:11, color:'#444', fontFamily:FONT, margin:11, formatter:stepFmt(p.yStep, p.yLabelMax)},
    name:'Elevation [m]', nameLocation:'middle', nameGap:40,
    nameTextStyle:{fontSize:12, color:'#444', fontFamily:FONT}});
  ['28 min','58 min','88 min'].forEach(nm=>{
    series.push({type:'line', name:nm, xAxisIndex:i, yAxisIndex:i, data:p.lines[nm],
      symbol:'none', showSymbol:false, smooth:false, z:2,
      lineStyle:{color:COL[nm].line, width:1.3}, itemStyle:{color:COL[nm].line}});
  });
  p.brackets.forEach(b=>{
    const c = COL[b.key];
    series.push({type:'custom', xAxisIndex:i, yAxisIndex:i, silent:true, clip:false, z:3,
      data:b.segs.map(s=>[s[0], s[1], b.line]), encode:{x:[0,1], y:2},
      renderItem:(params, api)=>{
        const s = b.segs[params.dataIndex];
        const a = api.coord([s[0], b.line]), e = api.coord([s[1], b.line]);
        const t = api.coord([s[0], b.tick]);
        const lx = (s[3] != null) ? s[3] : (s[0]+s[1])/2;
        const lp = api.coord([lx, b.label]);
        return {type:'group', children:[
          {type:'line', shape:{x1:a[0], y1:a[1], x2:e[0], y2:e[1]}, style:{stroke:c.bLine, lineWidth:1.5}},
          {type:'line', shape:{x1:a[0], y1:a[1], x2:a[0], y2:t[1]}, style:{stroke:c.bTick, lineWidth:1.6}},
          {type:'line', shape:{x1:e[0], y1:e[1], x2:e[0], y2:t[1]}, style:{stroke:c.bTick, lineWidth:1.6}},
          {type:'text', x:lp[0], y:lp[1], style:{text:s[2], fill:c.text, fontSize:16, fontFamily:FONT, align:'center', verticalAlign:'middle'}}
        ]};
      }});
  });
  p.texts.forEach(tg=>{
    const c = COL[tg.key];
    series.push({type:'custom', xAxisIndex:i, yAxisIndex:i, silent:true, clip:false, z:4,
      data:tg.items.map(s=>[s[0], s[1]]), encode:{x:0, y:1},
      renderItem:(params, api)=>{
        const s = tg.items[params.dataIndex];
        const pt = api.coord([s[0], s[1]]);
        return {type:'text', x:pt[0], y:pt[1], style:{text:s[2], fill:c.text, fontSize:16, fontFamily:FONT, align:'center', verticalAlign:'middle'}};
      }});
  });
  legends.push({orient:'vertical', left:1113, top:p.legendTop, itemWidth:32, itemHeight:14, itemGap:8,
    selectedMode:false, textStyle:{fontSize:12, color:'#333', fontFamily:FONT},
    data:SERIES_NAMES.map(nm=>({name:nm, icon:'path://M0,0L32,0L32,1.8L0,1.8Z',
      itemStyle:{color: COL[nm].legend || COL[nm].line}}))});
  graphics.push({type:'text', left:14, top:p.top-12, style:{text:p.roman, fill:'#111', font:'21px "Liberation Serif", "DejaVu Serif", serif'}});
});

const chart = echarts.init(document.getElementById('c'), null, {renderer:'canvas'});
chart.setOption({animation:false, backgroundColor:'#fff', grid:grids, xAxis:xAxes, yAxis:yAxes, series:series, legend:legends, graphic:graphics});
</script></body></html>
